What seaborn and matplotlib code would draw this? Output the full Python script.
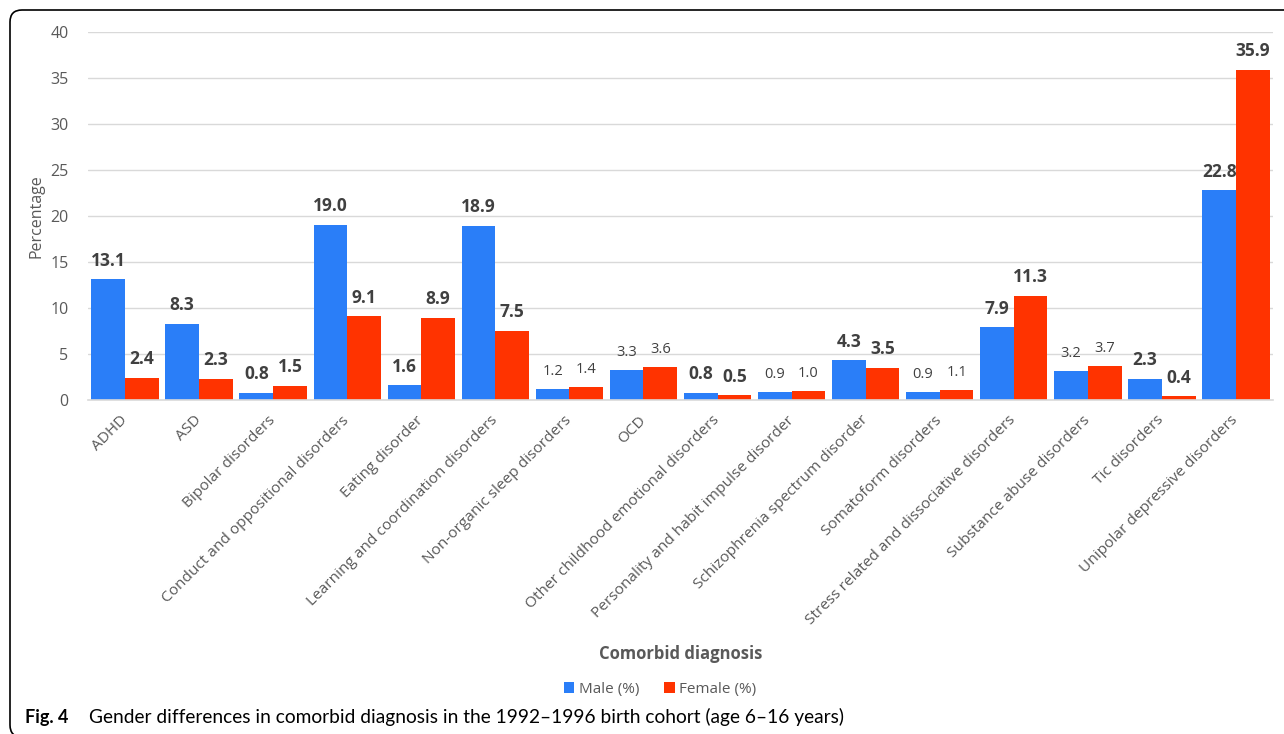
import numpy as np
import pandas as pd
import matplotlib
matplotlib.use("Agg")
import matplotlib.pyplot as plt
from matplotlib.patches import FancyBboxPatch
import seaborn as sns

categories = ["ADHD", "ASD", "Bipolar disorders", "Conduct and oppositional disorders",
              "Eating disorder", "Learning and coordination disorders",
              "Non-organic sleep disorders", "OCD", "Other childhood emotional disorders",
              "Personality and habit impulse disorder", "Schizophrenia spectrum disorder",
              "Somatoform disorders", "Stress related and dissociative disorders",
              "Substance abuse disorders", "Tic disorders", "Unipolar depressive disorders"]
male = [13.1, 8.3, 0.8, 19.0, 1.6, 18.9, 1.2, 3.3, 0.8, 0.9, 4.3, 0.9, 7.9, 3.2, 2.3, 22.8]
female = [2.4, 2.3, 1.5, 9.1, 8.9, 7.5, 1.4, 3.6, 0.5, 1.0, 3.5, 1.1, 11.3, 3.7, 0.4, 35.9]
significant = [True, True, True, True, True, True, False, False, True, False,
               True, False, True, False, True, True]
series = ["Male (%)", "Female (%)"]
yticks = [0, 5, 10, 15, 20, 25, 30, 35, 40]

sns.set_style("white")
plt.rcParams['font.family'] = ['Open Sans', 'DejaVu Sans']

df = pd.DataFrame({
    "Diagnosis": categories * 2,
    "Sex": [series[0]] * len(categories) + [series[1]] * len(categories),
    "Value": male + female,
})

fig = plt.figure(figsize=(12.84, 7.34), dpi=100)
ax = fig.add_axes([88 / 1284, 1 - 400 / 734, (1273 - 88) / 1284, (400 - 32) / 734])

palette = {series[0]: "#2A7EF8", series[1]: "#FF3300"}
sns.barplot(data=df, x="Diagnosis", y="Value", hue="Sex", order=categories,
            hue_order=series, palette=palette, width=0.91, linewidth=0,
            saturation=1, ax=ax, legend=True)

ax.set_ylim(0, 40)
ax.set_xlim(-0.5, len(categories) - 0.5)
ax.set_yticks(yticks)
ax.yaxis.grid(True, color="#D9D9D9", linewidth=1)
ax.set_axisbelow(True)
for s in ["top", "right", "left"]:
    ax.spines[s].set_visible(False)
ax.spines["bottom"].set_color("#D9D9D9")
ax.spines["bottom"].set_linewidth(1.2)

ax.tick_params(axis="y", length=0, pad=14, labelsize=11.5, labelcolor="#595959")
ax.tick_params(axis="x", which="major", length=0, pad=13, labelsize=11.1, labelcolor="#595959")
ax.set_xticks(np.arange(-0.5, len(categories), 1), minor=True)
ax.tick_params(axis="x", which="minor", length=6, width=1, color="#D9D9D9")
ax.set_xticks(range(len(categories)))
ax.set_xticklabels(categories, rotation=45, ha="right", rotation_mode="anchor", va="center")

ax.set_ylabel("Percentage", fontsize=11.5, color="#595959", labelpad=4)
ax.set_xlabel("Comorbid diagnosis", fontsize=12, fontweight="bold", color="#595959", labelpad=12)

for cont, vals in zip(ax.containers, [male, female]):
    texts = ax.bar_label(cont, labels=[f"{v:.1f}" for v in vals], padding=7, color="#404040")
    for t, sig in zip(texts, significant):
        if sig:
            t.set_fontweight("bold")
            t.set_fontsize(12.5)
        else:
            t.set_fontsize(10.5)

leg = ax.legend(loc="center", bbox_to_anchor=(0.5 + (660 - 680.5) / 1185, (400 - 689) / 368),
                ncol=2, frameon=False, fontsize=11, handlelength=0.7, handleheight=0.7,
                handletextpad=0.3, columnspacing=1.6, labelcolor="#595959")

cap1 = fig.text(25 / 1284, 1 - 717 / 734, "Fig. 4", fontsize=13, fontweight="bold",
                va="center", ha="left", color="black", family=["Lato", "DejaVu Sans"])
ax.annotate("Gender differences in comorbid diagnosis in the 1992–1996 birth cohort (age 6–16 years)",
            xy=(1, 0), xycoords=cap1, xytext=(15, 0), textcoords="offset points",
            fontsize=13.8, va="bottom", ha="left", color="black", annotation_clip=False,
            family=["Lato", "DejaVu Sans"])

frame = FancyBboxPatch((10, -3), 1290, 727, boxstyle="round,pad=0,rounding_size=12",
                       transform=None, fill=False, edgecolor="black", linewidth=1.2)
fig.add_artist(frame)

fig.savefig("out.png", dpi=100)
